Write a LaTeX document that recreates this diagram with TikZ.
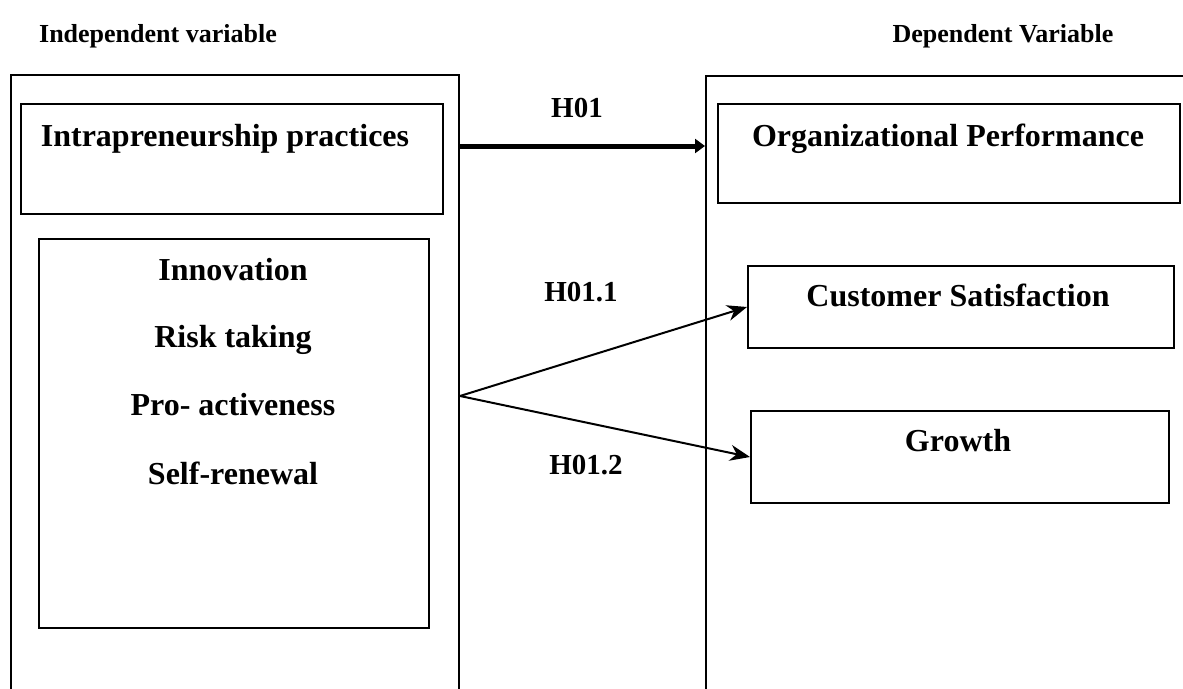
\documentclass[tikz,border=0pt]{standalone}
\usepackage{fontspec}
\setmainfont{Liberation Serif}
\usetikzlibrary{arrows.meta,positioning,calc}

\begin{document}
\begin{tikzpicture}
                [
                    x=1pt,y=-1pt,
                    box/.style={rectangle,draw=black,line width=2pt,inner sep=0,anchor=north west},
                    lbl/.style={font=\fontsize{32}{38}\selectfont\bfseries,inner sep=0,anchor=base},
                    head/.style={font=\fontsize{26}{31}\selectfont\bfseries,inner sep=0,anchor=base},
                    hyp/.style={font=\fontsize{29}{35}\selectfont\bfseries,inner sep=0,anchor=base},
                    link/.style={-{Stealth[length=20pt,width=16pt]},line width=2pt},
                    mainlink/.style={-{Triangle[length=10pt,width=14pt]},line width=5pt},
                ]
                \useasboundingbox (0,0) rectangle (1183,688);
                \clip (0,0) rectangle (1183,688);
                % outer frames (run past the page edge)
                \node[box,minimum width=448,minimum height=700] (indep) at (10,74) {};
                \node[box,minimum width=600,minimum height=700] (dep) at (705,75) {};
                % inner boxes
                \node[box,minimum width=422,minimum height=110] (intra) at (20,103) {};
                \node[box,minimum width=390,minimum height=389] (dims) at (38,238) {};
                \node[box,minimum width=462,minimum height=99] (perf) at (717,103) {};
                \node[box,minimum width=426,minimum height=82] (cust) at (747,265) {};
                \node[box,minimum width=418,minimum height=92] (growth) at (750,410) {};
                % texts
                \node[head] (indeptitle) at (158,42) {Independent variable};
                \node[head] (deptitle) at (1003,42) {Dependent Variable};
                \node[lbl] (intratext) at (225,146) {Intrapreneurship practices};
                \node[lbl] (perftext) at (948,146) {Organizational Performance};
                \node[lbl] (innov) at (233,280) {Innovation};
                \node[lbl] (risk) at (233,347) {Risk taking};
                \node[lbl] (proact) at (233,415) {Pro- activeness};
                \node[lbl] (renew) at (233,484) {Self-renewal};
                \node[lbl] (custtext) at (958,306) {Customer Satisfaction};
                \node[lbl] (growthtext) at (958,451) {Growth};
                \node[hyp] (hmain) at (577,117) {H01};
                \node[hyp] (hone) at (581,301) {H01.1};
                \node[hyp] (htwo) at (586,474) {H01.2};
                % hypotheses
                \draw[mainlink] ($(indep.north east)+(0,72)$) -- ($(dep.north west)+(0,71)$);
                \coordinate (fork) at (460,396);
                \draw[link] (fork) -- (cust.west);
                \draw[link] (fork) -- (growth.west);
            \end{tikzpicture}
\end{document}
